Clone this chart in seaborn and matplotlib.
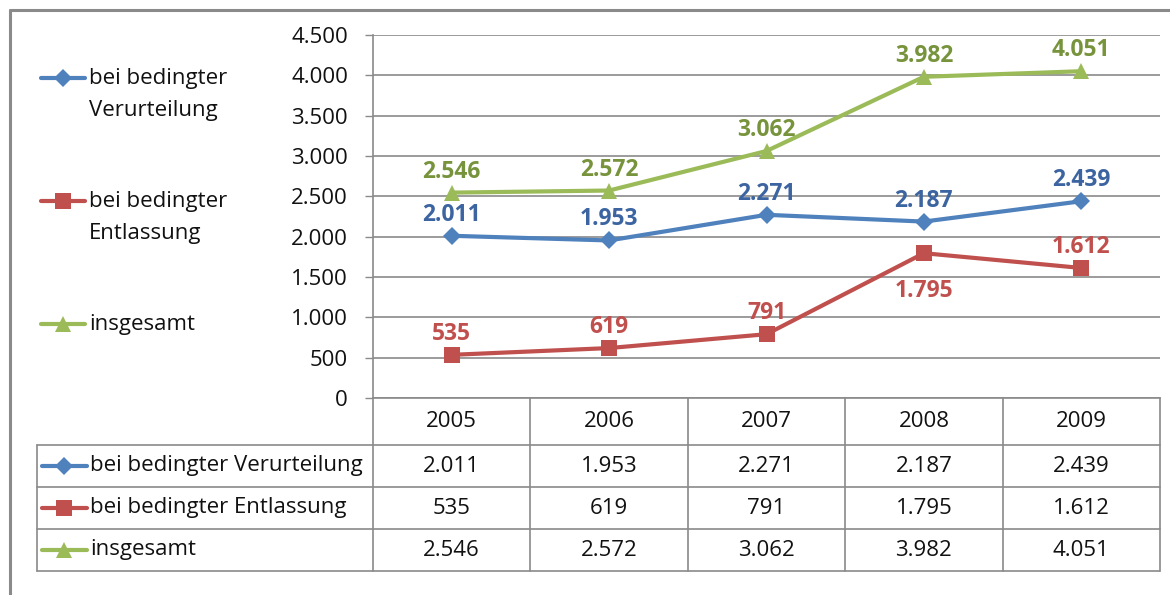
import numpy as np
import pandas as pd
import matplotlib
matplotlib.use("Agg")
import matplotlib.pyplot as plt
import seaborn as sns
from matplotlib.ticker import FuncFormatter

# data
years = ["2005", "2006", "2007", "2008", "2009"]
verurteilung = [2011, 1953, 2271, 2187, 2439]
entlassung = [535, 619, 791, 1795, 1612]
insgesamt = [2546, 2572, 3062, 3982, 4051]
series_names = ["bei bedingter Verurteilung", "bei bedingter Entlassung", "insgesamt"]
legend_names = ["bei bedingter\nVerurteilung", "bei bedingter\nEntlassung", "insgesamt"]

line_colors = ["#4F81BD", "#C0504D", "#9BBB59"]
label_colors = ["#3B64A0", "#C0504D", "#77933C"]
markers = ["D", "s", "^"]
msizes = [9, 11, 12]


def de(v):
    return f"{v:,.0f}".replace(",", ".")


values = [verurteilung, entlassung, insgesamt]
df = pd.DataFrame({
    "pos": np.tile(np.arange(len(years)), len(series_names)),
    "Wert": np.concatenate(values),
    "Reihe": np.repeat(series_names, len(years)),
})

sns.set_theme(style="white")
plt.rcParams["font.family"] = ["Open Sans", "DejaVu Sans"]
FS = 16
LFS = 16.5
TXT = "#111111"
GRID = "#8a8a8a"

fig = plt.figure(figsize=(11.7, 5.95), dpi=100)

# overlay in pixel coordinates for frame, legend and table
ov = fig.add_axes([0, 0, 1, 1], zorder=0)
ov.set_xlim(0, 1170)
ov.set_ylim(595, 0)
ov.axis("off")
ov.patch.set_alpha(0)

L, R, T, B = 373, 1160, 35, 398
ax = fig.add_axes([L / 1170, 1 - B / 595, (R - L) / 1170, (B - T) / 595], zorder=2)
ax.patch.set_alpha(0)

sns.lineplot(data=df, x="pos", y="Wert", hue="Reihe", style="Reihe",
             hue_order=series_names, style_order=series_names,
             palette=line_colors, markers=markers, dashes=False,
             lw=3, ax=ax, legend=False)
for ln, c, ms in zip(ax.lines, line_colors, msizes):
    ln.set_markersize(ms)
    ln.set_markeredgecolor(c)
    ln.set_markerfacecolor(c)
    ln.set_markeredgewidth(0)

ax.set_xlim(-0.5, len(years) - 0.5)
ax.set_ylim(0, 4500)
ax.set_yticks(np.arange(0, 4501, 500))
ax.yaxis.set_major_formatter(FuncFormatter(lambda v, p: de(v)))
ax.set_xticks([])
ax.set_xlabel("")
ax.set_ylabel("")
ax.tick_params(axis="y", left=True, length=6, width=1, color=GRID,
               labelsize=FS, labelcolor=TXT, pad=12)
ax.grid(False)
ax.yaxis.grid(True, color=GRID, lw=1.2)
for s in ["top", "right"]:
    ax.spines[s].set_visible(False)
ax.spines["left"].set_color(GRID)
ax.spines["bottom"].set_color(GRID)
ax.spines["left"].set_linewidth(1.2)
ax.spines["bottom"].set_linewidth(1.2)

# data labels
below = {("bei bedingter Entlassung", "2008")}
for name, vals, lc in zip(series_names, values, label_colors):
    for i, v in enumerate(vals):
        dy = -38 if (name, years[i]) in below else 21
        ax.annotate(de(v), (i, v), xytext=(0, dy), textcoords="offset pixels",
                    ha="center", va="center", fontsize=LFS, fontweight="bold",
                    color=lc, annotation_clip=False)

# outer frame
ov.plot([10, 1170], [10, 10], color=GRID, lw=2.2)
ov.plot([10, 10], [10, 595], color=GRID, lw=2.2)

# left legend
leg_y = [78, 201, 324]
for y, lbl, c, m, ms in zip(leg_y, legend_names, line_colors, markers, msizes):
    ov.plot([41, 85], [y, y], color=c, lw=3)
    ov.plot([63], [y], marker=m, ms=ms, color=c, mew=0)
    ov.text(89, y - 10, lbl, fontsize=FS, color=TXT, va="top", ha="left",
            linespacing=1.7)

# data table
cw = (R - L) / len(years)
rows_y = [B, 445, 487, 529, 571]
TL = 37
for y in rows_y[1:]:
    ov.plot([TL, R], [y, y], color=GRID, lw=1.2)
ov.plot([TL, TL], [rows_y[1], rows_y[-1]], color=GRID, lw=1.2)
for i in range(len(years) + 1):
    ov.plot([L + i * cw] * 2, [B, rows_y[-1]], color=GRID, lw=1.2)

for i, yr in enumerate(years):
    ov.text(L + (i + 0.5) * cw, (rows_y[0] + rows_y[1]) / 2, yr, fontsize=FS,
            color=TXT, ha="center", va="center")
for r, (name, vals, c, m, ms) in enumerate(zip(series_names, values, line_colors, markers, msizes)):
    yc = (rows_y[r + 1] + rows_y[r + 2]) / 2
    ov.plot([42, 87], [yc, yc], color=c, lw=3)
    ov.plot([64], [yc], marker=m, ms=ms, color=c, mew=0)
    ov.text(90, yc, name, fontsize=FS, color=TXT, ha="left", va="center")
    for i, v in enumerate(vals):
        ov.text(L + (i + 0.5) * cw, yc, de(v), fontsize=FS, color=TXT,
                ha="center", va="center")

fig.savefig("out.png", dpi=100)
